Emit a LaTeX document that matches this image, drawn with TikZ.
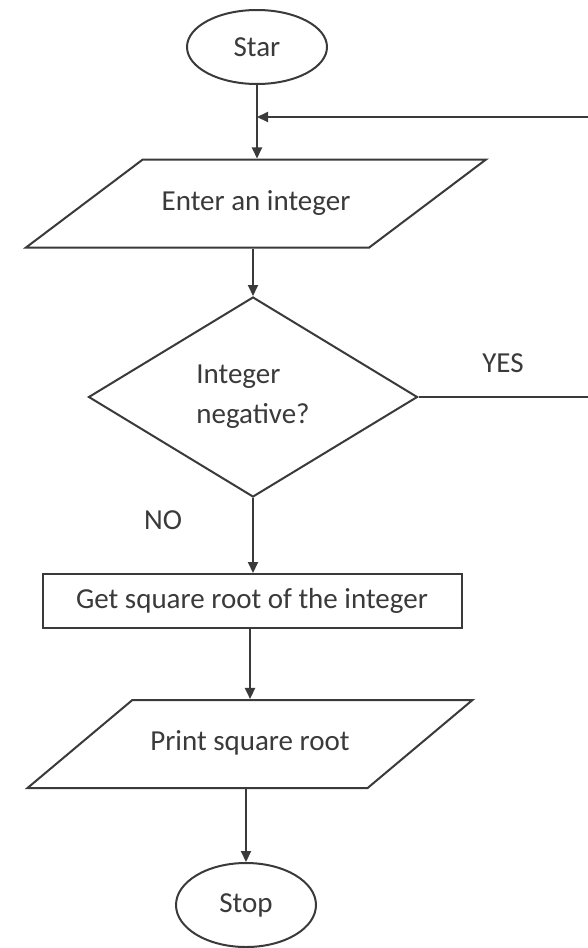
\documentclass[tikz,border=0pt]{standalone}
\usepackage{fontspec}
\setmainfont{Carlito}
\usetikzlibrary{arrows.meta,shapes.geometric}
\definecolor{ink}{HTML}{3A3A3A}
\tikzset{
  base/.style={draw=ink,line width=2pt,text=ink,inner sep=0pt},
  term/.style={base,ellipse,minimum width=140pt},
  io/.style={base,trapezium,trapezium stretches body,text height=20pt,text depth=7pt,inner ysep=30.5pt},
  decide/.style={base,diamond,align=left},
  proc/.style={base,rectangle},
  flow/.style={draw=ink,line width=2pt,->},
}

\begin{document}
\begin{tikzpicture}[font=\fontsize{29}{40}\selectfont,>={Triangle[length=11pt,width=10pt]},x=1pt,y=-1pt]
\useasboundingbox[fill=white] (0,0) rectangle (587,948);
\node[term,minimum height=74pt] (start) at (257,47) {Star};
\node[io,trapezium left angle=37,trapezium right angle=143,minimum width=460pt] (enter) at (256,203.5) {Enter an integer};
\node[decide,minimum width=329pt,minimum height=200pt] (ask) at (253,397) {Integer\\negative?};
\node[proc,minimum width=419pt,minimum height=54pt] (root) at (252,601) {Get square root of the integer};
\node[io,trapezium left angle=40,trapezium right angle=140,minimum width=445pt] (print) at (250,744) {Print square root};
\node[term,minimum height=84pt] (stop) at (246,905) {Stop};

\node[text=ink] (yes) at (503,363) {YES};
\node[text=ink] (no) at (163,520) {NO};

\coordinate (join) at (257,117);
\coordinate (edge) at (620,117);

\draw[flow] (start.south) -- (start.south |- enter.north);
\draw[flow] (enter.south -| ask.north) -- (ask.north);
\draw[flow] (ask.south) -- (ask.south |- root.north);
\draw[flow] (root.south -| print.north) -- (print.north);
\draw[flow] (print.south -| stop.north) -- (stop.north);
\draw[flow] (ask.east) -- (ask.east -| edge) -- (edge) -- (join);
\end{tikzpicture}
\end{document}
